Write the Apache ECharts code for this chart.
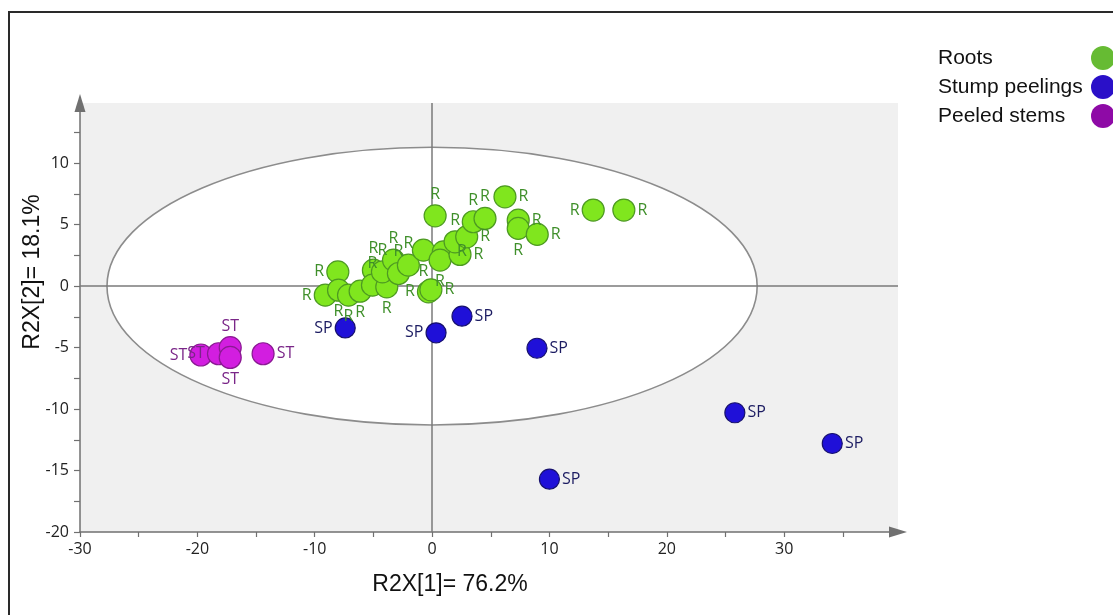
<!DOCTYPE html>
<html>
<head>
<meta charset="utf-8">
<script src="https://cdn.jsdelivr.net/npm/echarts@6/dist/echarts.min.js"></script>
<style>
  html, body { margin: 0; padding: 0; background: #ffffff; }
  #chart { width: 1113px; height: 615px; }
</style>
</head>
<body>
<div id="chart"></div>
<script>
// PCA score plot: t[1] vs t[2], with the Hotelling T2 ellipse
const groupNames = ['Roots', 'Stump peelings', 'Peeled stems'];
const groupTags = ['R', 'SP', 'ST'];

// score values [t1, t2]
const rootsPoints = [
  [-8.03, 1.16], [-9.10, -0.73], [-7.97, -0.33], [-7.12, -0.73], [-6.13, -0.41],
  [-5.00, 1.30], [-5.08, 0.08], [-3.86, -0.06], [-4.23, 1.16], [-3.29, 2.12],
  [-2.87, 1.03], [-2.02, 1.71], [-0.74, 2.93], [-0.31, -0.46], [-0.10, -0.30],
  [0.26, 5.72], [0.96, 2.79], [0.68, 2.12], [2.38, 2.58], [1.96, 3.61],
  [2.95, 4.01], [3.51, 5.24], [4.51, 5.51], [6.21, 7.27], [7.34, 5.37],
  [7.34, 4.70], [8.96, 4.21], [13.73, 6.19], [16.34, 6.19]
];
const rootsLabelSide = [
  'left', 'left', 'bottom', 'bottom', 'bottom',
  'top', 'top', 'bottom', 'top', 'top',
  'top', 'top', 'bottom', 'left', 'right',
  'top', 'right', 'bottom', 'right', 'top',
  'right', 'top', 'top', 'right', 'right',
  'bottom', 'right', 'left', 'right'
];

const stumpPoints = [
  [-7.40, -3.40], [0.34, -3.80], [2.55, -2.44], [8.94, -5.05],
  [25.80, -10.30], [34.10, -12.80], [10.00, -15.70]
];
const stumpLabelSide = ['left', 'left', 'right', 'right', 'right', 'right', 'right'];

const stemPoints = [
  [-19.70, -5.60], [-18.20, -5.50], [-17.20, -5.00], [-17.20, -5.80], [-14.40, -5.50]
];
const stemLabelSide = ['left', 'left', 'top', 'bottom', 'right'];

// axis ticks
const xTickValues = [-30, -20, -10, 0, 10, 20, 30];
const xMinorTickValues = [-25, -15, -5, 5, 15, 25, 35];
const yTickValues = [-20, -15, -10, -5, 0, 5, 10];
const yMinorTickValues = [-17.5, -12.5, -7.5, -2.5, 2.5, 7.5, 12.5];

// Hotelling T2 (95%) ellipse semi-axes, centred on the origin
const ellipseCenter = [0, 0];
const ellipseSemiAxes = [27.7, 11.3];

const axisTitles = ['R2X[1]= 76.2%', 'R2X[2]= 18.1%'];

// colours
const markerFill = ['#80e61e', '#1f10d8', '#d21ee0'];
const markerBorder = ['#4d9a22', '#16106e', '#8a1a92'];
const tagColor = ['#3f8f2a', '#1c1c62', '#7a2688'];
const legendColor = ['#66bb33', '#2a10c8', '#8e0aa6'];
const axisColor = '#707070';

const chart = echarts.init(document.getElementById('chart'), null, { renderer: 'canvas' });

function makePoints(points, sides) {
  return points.map((p, i) => ({ value: p, label: { position: sides[i] } }));
}

function scatterSeries(idx, points, sides, size) {
  return {
    name: groupNames[idx],
    type: 'scatter',
    z: 5,
    symbol: 'circle',
    symbolSize: size,
    itemStyle: { color: markerFill[idx], borderColor: markerBorder[idx], borderWidth: 1.2, opacity: 1 },
    label: {
      show: true,
      formatter: groupTags[idx],
      color: tagColor[idx],
      fontFamily: 'Open Sans',
      fontSize: 16,
      distance: 2
    },
    emphasis: { disabled: true },
    data: makePoints(points, sides)
  };
}

const labelFont = { color: '#222222', fontFamily: 'Open Sans', fontSize: 16 };

const option = {
  animation: false,
  backgroundColor: '#ffffff',
  grid: {
    left: 80, right: 215, top: 103, bottom: 83,
    show: true, backgroundColor: '#f0f0f0', borderWidth: 0
  },
  xAxis: {
    type: 'value', min: -30, max: 39.7,
    splitLine: { show: false },
    axisLine: {
      show: true, onZero: false,
      symbol: ['none', 'triangle'], symbolSize: [11, 18],
      lineStyle: { color: axisColor, width: 1.5 }
    },
    axisTick: {
      show: true, inside: false, length: 5,
      customValues: xTickValues.concat(xMinorTickValues),
      lineStyle: { color: axisColor, width: 1.2 }
    },
    axisLabel: Object.assign({ customValues: xTickValues, margin: 9 }, labelFont)
  },
  yAxis: {
    type: 'value', min: -20, max: 14.9,
    splitLine: { show: false },
    axisLine: {
      show: true, onZero: false,
      symbol: ['none', 'triangle'], symbolSize: [11, 18],
      lineStyle: { color: axisColor, width: 1.5 }
    },
    axisTick: {
      show: true, inside: false, length: 6,
      customValues: yTickValues.concat(yMinorTickValues),
      lineStyle: { color: axisColor, width: 1.2 }
    },
    axisLabel: Object.assign({ customValues: yTickValues, margin: 11 }, labelFont)
  },
  graphic: [
    // frame lines
    { type: 'polyline', silent: true, z: 100,
      shape: { points: [[9, 640], [9, 12], [1130, 12]] },
      style: { stroke: '#2a2a2a', lineWidth: 2, fill: null } },
    // axis titles
    { type: 'text', silent: true, x: 450, y: 585,
      style: { text: axisTitles[0], fill: '#111', font: '23px "Liberation Sans", Arial, sans-serif',
               align: 'center', verticalAlign: 'middle' } },
    { type: 'text', silent: true, x: 33, y: 272, rotation: Math.PI / 2,
      style: { text: axisTitles[1], fill: '#111', font: '23px "Liberation Sans", Arial, sans-serif',
               align: 'center', verticalAlign: 'middle' } },
    // legend
    { type: 'group', silent: true, x: 938, y: 58,
      children: groupNames.flatMap((name, i) => [
        { type: 'text', y: i * 29,
          style: { text: name, fill: '#111', font: '21px "Liberation Sans", Arial, sans-serif',
                   align: 'left', verticalAlign: 'middle' } },
        { type: 'circle', shape: { cx: 165, cy: i * 29, r: 12 },
          style: { fill: legendColor[i] } }
      ]) }
  ],
  series: [
    {
      name: 'T2 ellipse',
      type: 'custom',
      z: 1,
      silent: true,
      clip: true,
      data: [ellipseCenter],
      renderItem: function (params, api) {
        const c = api.coord([api.value(0), api.value(1)]);
        const s = api.size(ellipseSemiAxes);
        return {
          type: 'ellipse',
          shape: { cx: c[0], cy: c[1], rx: s[0], ry: s[1] },
          style: { fill: '#ffffff', stroke: '#8c8c8c', lineWidth: 1.6 }
        };
      }
    },
    {
      name: 'origin lines',
      type: 'scatter',
      z: 2,
      silent: true,
      data: [],
      markLine: {
        silent: true,
        symbol: ['none', 'none'],
        label: { show: false },
        lineStyle: { color: '#7a7a7a', width: 1.5, type: 'solid' },
        data: [{ xAxis: 0 }, { yAxis: 0 }]
      }
    },
    scatterSeries(0, rootsPoints, rootsLabelSide, 22),
    scatterSeries(1, stumpPoints, stumpLabelSide, 20),
    scatterSeries(2, stemPoints, stemLabelSide, 22)
  ]
};

chart.setOption(option);
</script>
</body>
</html>
